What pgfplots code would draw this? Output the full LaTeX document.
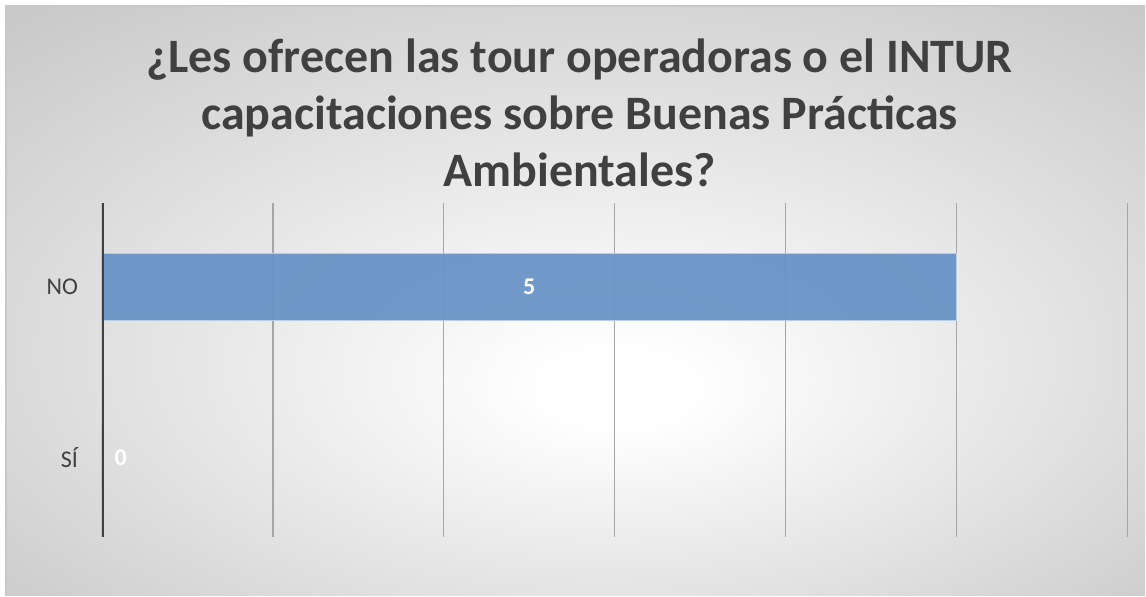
\documentclass[border=0pt]{standalone}
\usepackage{fontspec}
\setmainfont{Carlito}
\usepackage{pgfplots}
\usepackage{pgfplotstable}
\pgfplotsset{compat=1.18}

\definecolor{txt}{HTML}{404040}
\definecolor{barblue}{RGB}{101,145,197}
\definecolor{baredge}{RGB}{185,205,229}
\definecolor{gridc}{HTML}{A6A6A6}
\definecolor{framec}{HTML}{C8C8C8}
\pgfdeclareradialshading{bgshade}{\pgfpoint{2bp}{-8bp}}{color(0bp)=(white); color(3bp)=(white); color(36bp)=(gray!42); color(50bp)=(gray!42)}

% 0 = SI, 1 = NO
\pgfplotstableread{
cat v
0 0
1 5
}\answers

\begin{document}
\begin{tikzpicture}
\fill[white] (0,0) rectangle (573pt,298pt);
\shade[shading=bgshade] (3pt,0) rectangle (573pt,295pt);
\draw[framec, line width=0.8pt] (3pt,0) -- (3pt,295pt) -- (573pt,295pt);

\node[anchor=base, text=txt, font=\bfseries\fontsize{24}{28}\selectfont] at (290pt,261.5pt) {¿Les ofrecen las tour operadoras o el INTUR};
\node[anchor=base, text=txt, font=\bfseries\fontsize{24}{28}\selectfont] at (290pt,233pt) {capacitaciones sobre Buenas Prácticas};
\node[anchor=base, text=txt, font=\bfseries\fontsize{24}{28}\selectfont] at (290pt,204.5pt) {Ambientales?};

\begin{axis}[
  at={(51pt,29.5pt)}, anchor=south west,
  scale only axis, width=513pt, height=167pt,
  xmin=0, xmax=6, ymin=-0.46, ymax=1.49,
  xtick={1,2,3,4,5,6}, xticklabels={},
  ytick={0,1}, yticklabels={SÍ,NO},
  major tick length=0pt,
  axis line style={draw=none},
  xmajorgrids,
  grid style={gridc, line width=0.7pt},
  y tick label style={font=\fontsize{12}{14}\selectfont, text=txt, xshift=-8.5pt},
]
\addplot[xbar, bar width=33.5pt, fill=barblue, fill opacity=0.92, draw=baredge, line width=0.6pt]
  table[x=v, y=cat] {\answers};
\addplot[draw=none, mark=none, point meta=explicit symbolic,
  nodes near coords={\pgfplotspointmeta},
  every node near coord/.append style={anchor=center, text=white, font=\fontsize{12}{14}\selectfont\bfseries}]
  table[x expr={max(\thisrow{v}/2,0.11)}, y=cat, meta=v] {\answers};
\draw[txt, line width=2.2pt] (rel axis cs:0,0) -- (rel axis cs:0,1);
\end{axis}
\end{tikzpicture}
\end{document}
